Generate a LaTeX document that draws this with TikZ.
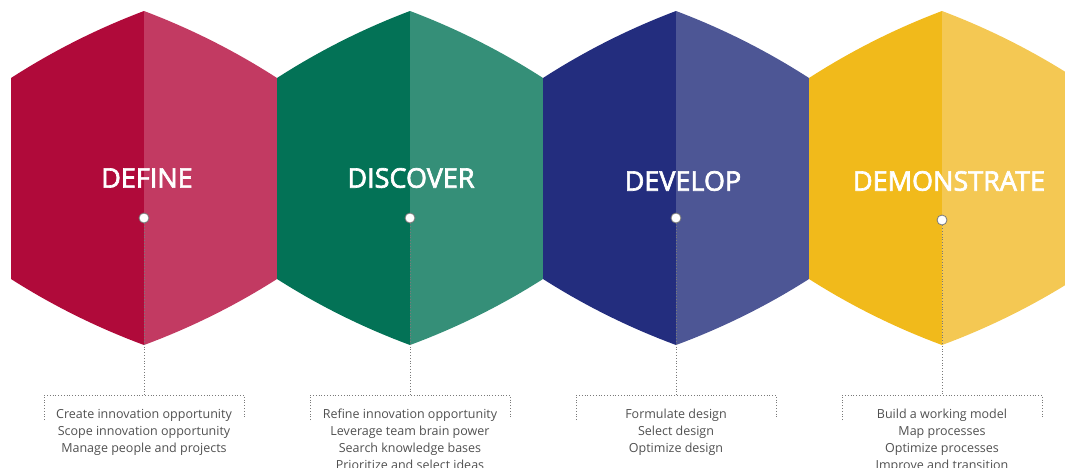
\documentclass[tikz,border=0pt]{standalone}
\usepackage{fontspec}
\setmainfont{Open Sans}
\newfontfamily\titlefont[FakeBold=2.5]{Open Sans}
\definecolor{redL}{HTML}{B00A3A}
\definecolor{redR}{HTML}{C23A62}
\definecolor{greenL}{HTML}{037256}
\definecolor{greenR}{HTML}{358F78}
\definecolor{blueL}{HTML}{232D7E}
\definecolor{blueR}{HTML}{4D5695}
\definecolor{yelL}{HTML}{F1BA1B}
\definecolor{yelR}{HTML}{F4C853}
\definecolor{txt}{HTML}{505050}
\definecolor{dotc}{HTML}{7A7A7A}
\newcommand\halfhex[3]{% #1 cx, #2 sign, #3 colour
  \fill[#3] (#1,11) .. controls ({#1+#2*46.7},28.6) and ({#1+#2*91.1},51.0) .. ({#1+#2*133},78)
    -- ({#1+#2*133},279) .. controls ({#1+#2*91.1},305.7) and ({#1+#2*46.7},327.7) .. (#1,345) -- cycle;}
\begin{document}
\begin{tikzpicture}[x=1pt,y=-1pt,
  title/.style={text=white, font=\titlefont\fontsize{27}{31}\selectfont, inner sep=0},
  dotnode/.style={circle, fill=white, draw=dotc, line width=0.8pt, minimum size=10pt, inner sep=0},
  dotline/.style={draw=dotc, dotted, line width=0.8pt},
  items/.style={text=txt, font=\fontsize{12.5}{17}\selectfont, align=center, anchor=north, inner sep=0}]
\useasboundingbox (0,0) rectangle (1065,467);
\clip (0,0) rectangle (1065,467);
\halfhex{144}{-1}{redL}\halfhex{144}{1}{redR}
\halfhex{410}{-1}{greenL}\halfhex{410}{1}{greenR}
\halfhex{676}{-1}{blueL}\halfhex{676}{1}{blueR}
\halfhex{942}{-1}{yelL}\halfhex{942}{1}{yelR}
% titles
\node[title] (t1) at (147,178) {DEFINE};
\node[title] (t2) at (411,178) {DISCOVER};
\node[title] (t3) at (683,181) {DEVELOP};
\node[title] (t4) at (949,181) {DEMONSTRATE};
% dots
\node[dotnode] (d1) at (144,218) {};
\node[dotnode] (d2) at (410,218) {};
\node[dotnode] (d3) at (676,218) {};
\node[dotnode] (d4) at (942,220) {};
% brackets
\foreach \i/\cx in {1/144,2/410,3/676,4/942}{
  \coordinate (j\i) at (\cx,395);
  \coordinate (l\i) at (\cx-100,420);
  \coordinate (r\i) at (\cx+100,418);
  \draw[dotline] (d\i) -- (j\i);
  \draw[dotline] (l\i) |- (j\i) -| (r\i);
}
% item texts
\node[items] (x1) at (144,409) {Create innovation opportunity\\Scope innovation opportunity\\Manage people and projects};
\node[items] (x2) at (410,409) {Refine innovation opportunity\\Leverage team brain power\\Search knowledge bases\\Prioritize and select ideas};
\node[items] (x3) at (676,409) {Formulate design\\Select design\\Optimize design};
\node[items] (x4) at (942,409) {Build a working model\\Map processes\\Optimize processes\\Improve and transition};
\end{tikzpicture}
\end{document}
